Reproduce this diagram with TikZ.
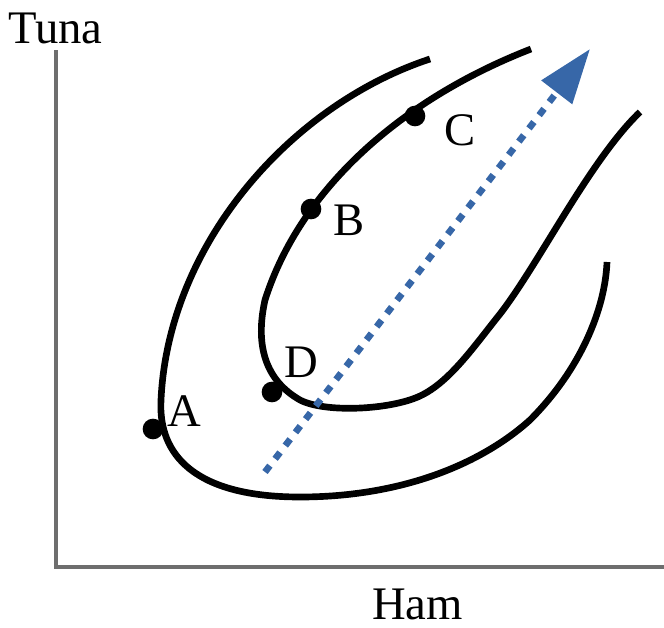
\documentclass[tikz,border=0pt]{standalone}
\usepackage{fontspec}
\setmainfont{Liberation Serif}
\usetikzlibrary{arrows.meta}
\definecolor{axisgray}{HTML}{6E6E6E}
\definecolor{arrowblue}{HTML}{3767A8}
\begin{document}
\begin{tikzpicture}[x=0.75pt,y=-0.75pt,
  axisline/.style={draw=axisgray, line width=2.3pt},
  curve/.style={draw=black, line width=5pt},
  dotnode/.style={circle, fill=black, inner sep=0pt, minimum size=15.5pt},
  lbl/.style={font=\fontsize{35}{40}\selectfont, inner sep=0pt},
  growth/.style={draw=arrowblue, line width=5pt, dash pattern=on 6pt off 6.5pt,
    -{Triangle[length=41pt, width=28pt, fill=arrowblue]}}
]
\useasboundingbox (0,0) rectangle (664,628);
% axes
\draw[axisline] (56,50) |- (664,567);
% outer curve
\draw[curve] (430,59) .. controls (290,105) and (168,245) .. (161,400)
  .. controls (158,455) and (195,497) .. (300,497)
  .. controls (400,497) and (480,465) .. (530,420)
  .. controls (580,370) and (605,310) .. (607,262);
% inner curve
\draw[curve] (531,49) .. controls (400,100) and (300,190) .. (265,300)
  .. controls (255,345) and (265,380) .. (300,400)
  .. controls (325,413) and (390,410) .. (420,396)
  .. controls (450,382) and (475,345) .. (500,314)
  .. controls (540,262) and (590,160) .. (640,112);
% points
\node[dotnode] (pA) at (153,429) {};
\node[dotnode] (pB) at (311,209) {};
\node[dotnode] (pC) at (415,116) {};
\node[dotnode] (pD) at (272,392) {};
% labels
\node[lbl, anchor=base west] (tuna) at (8,43) {Tuna};
\node[lbl, anchor=base west] (ham) at (372,619) {Ham};
\node[lbl, anchor=base west] (lA) at (167,426) {A};
\node[lbl, anchor=base west] (lB) at (333,235) {B};
\node[lbl, anchor=base west] (lC) at (444,145) {C};
\node[lbl, anchor=base west] (lD) at (284,377) {D};
% arrow
\coordinate (arrStart) at (265,472);
\coordinate (arrEnd) at (590,49);
\draw[growth] (arrStart) -- (arrEnd);
\end{tikzpicture}
\end{document}
